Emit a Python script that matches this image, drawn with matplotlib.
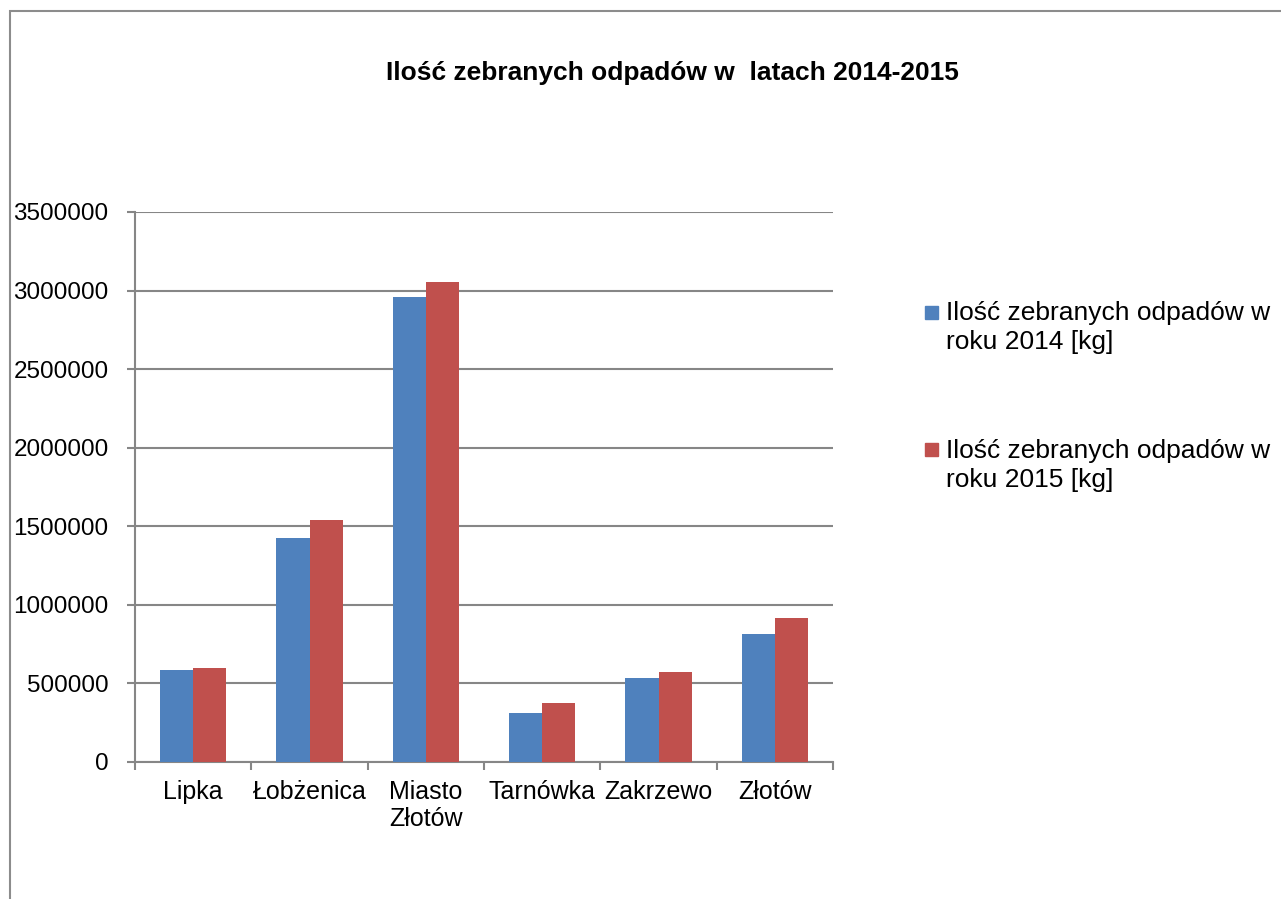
import numpy as np
import matplotlib
matplotlib.use("Agg")
import matplotlib.pyplot as plt
from matplotlib.patches import Rectangle

plt.rcParams['font.family'] = ['Liberation Sans', 'DejaVu Sans']

# dane
gminy = ['Lipka', 'Łobżenica', 'Miasto\nZłotów', 'Tarnówka', 'Zakrzewo', 'Złotów']
odpady_2014 = [588000, 1425000, 2960000, 314000, 534000, 816000]
odpady_2015 = [598000, 1538000, 3057000, 378000, 575000, 914000]
etykiety = ['Ilość zebranych odpadów w\nroku 2014 [kg]',
            'Ilość zebranych odpadów w\nroku 2015 [kg]']
tytul = 'Ilość zebranych odpadów w  latach 2014-2015'

kolory = ['#4F81BD', '#C0504D']
szary = '#868686'

fig = plt.figure(figsize=(12.81, 8.99), dpi=100)
ax = fig.add_axes([135 / 1281, 1 - 762 / 899, 698 / 1281, 550 / 899])

x = np.arange(len(gminy))
w = 0.285
ax.bar(x - w / 2, odpady_2014, w, color=kolory[0], zorder=3)
ax.bar(x + w / 2, odpady_2015, w, color=kolory[1], zorder=3)

ax.set_xlim(-0.5, len(gminy) - 0.5)
ax.set_ylim(0, 3500000)
ax.set_yticks(np.arange(0, 3500001, 500000))
ax.set_yticklabels([str(v) for v in range(0, 3500001, 500000)], fontsize=17.5)
ax.yaxis.grid(True, color=szary, linewidth=1.5, zorder=0)
ax.tick_params(axis='y', length=6, width=1.5, color=szary, pad=13)

# etykiety kategorii w środku, kreski na granicach
ax.set_xticks(np.arange(-0.5, len(gminy), 1.0))
ax.set_xticklabels([])
ax.set_xticks(x, minor=True)
ax.set_xticklabels(gminy, minor=True, fontsize=18, linespacing=1.17)
ax.tick_params(axis='x', which='major', length=6, width=1.5, color=szary)
ax.tick_params(axis='x', which='minor', length=0, pad=13)

for s in ['top', 'right']:
    ax.spines[s].set_visible(False)
for s in ['left', 'bottom']:
    ax.spines[s].set_color(szary)
    ax.spines[s].set_linewidth(1.5)

fig.text(672 / 1281, 1 - 73 / 899, tytul, fontsize=19, fontweight='bold',
         ha='center', va='center')

# legenda
for i, (lab, kol) in enumerate(zip(etykiety, kolory)):
    yc = 1 - (312 + i * 138) / 899
    fig.patches.append(Rectangle((925 / 1281, yc - 6.5 / 899), 13 / 1281, 13 / 899,
                                 transform=fig.transFigure, color=kol, figure=fig))
    fig.text(946 / 1281, yc + 11 / 899, lab, fontsize=19, ha='left', va='top',
             linespacing=1.28)

# ramka wykresu
fig.patches.append(Rectangle((9.5 / 1281, -0.05), 1.1, 1 - 10.5 / 899 + 0.05,
                             transform=fig.transFigure, fill=False,
                             edgecolor='#8C8C8C', linewidth=1.5, figure=fig))

fig.savefig('out.png', dpi=100)
